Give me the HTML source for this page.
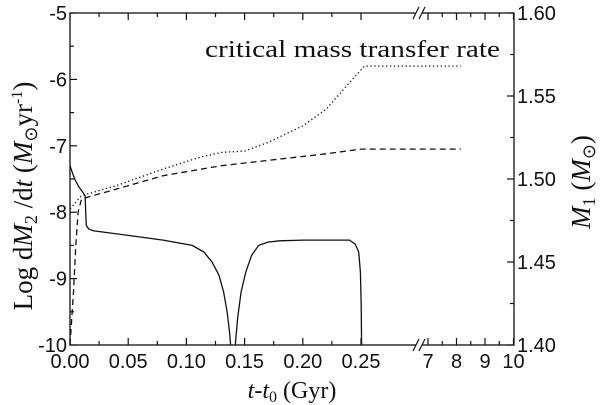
<!DOCTYPE html>
<html><head><meta charset="utf-8"><style>
body{margin:0;background:#fff}
svg{display:block}
.t{font-family:"Liberation Sans",sans-serif;font-size:20px;fill:#111}
.s{font-family:"Liberation Serif",serif;font-size:24px;fill:#111}
</style></head><body>
<svg width="600" height="405" viewBox="0 0 600 405">
<g id="g"></g>
</svg>
<script>
const xTicksLeft=[0,0.05,0.10,0.15,0.20,0.25];
const xTicksRight=[7,8,9,10];
const yTicks=[-5,-6,-7,-8,-9,-10];
const y2Ticks=[1.40,1.45,1.50,1.55,1.60];
const dotT=[0,0.01,0.04,0.08,0.11,0.13,0.15,0.17,0.2,0.22,0.24,0.253,7,8.15];
const dotV=[-7.95,-7.75,-7.6,-7.35,-7.18,-7.1,-7.08,-6.95,-6.7,-6.45,-6.05,-5.8,-5.8,-5.8];
const dashT=[0,0.003,0.005,0.007,0.01,0.04,0.08,0.13,0.18,0.22,0.25,7,8.15];
const dashV=[-10,-9.2,-8.5,-8.0,-7.8,-7.65,-7.45,-7.3,-7.2,-7.12,-7.05,-7.05,-7.05];
const solA_T=[0,0.002,0.004,0.007,0.013,0.0135,0.014,0.016,0.02,0.05,0.08,0.105,0.115,0.122,0.128,0.132,0.135,0.137,0.138];
const solA_V=[-7.3,-7.4,-7.5,-7.6,-7.75,-8.0,-8.2,-8.25,-8.28,-8.35,-8.42,-8.5,-8.6,-8.75,-8.95,-9.2,-9.5,-9.8,-10];
const solB_T=[0.142,0.144,0.147,0.151,0.156,0.162,0.17,0.18,0.2,0.22,0.24,0.245,0.248,0.2495,0.2502,0.2505];
const solB_V=[-10,-9.6,-9.2,-8.9,-8.65,-8.5,-8.45,-8.43,-8.42,-8.42,-8.42,-8.48,-8.6,-8.9,-9.4,-10];
const L=70,R=514,T=13,B=345;
function X(t){return t<=1?L+t/0.05*58.2:428+(t-7)*28.5;}
function Y(v){return T+(-5-v)*(B-T)/5;}
function Y2(m){return B-(m-1.4)/0.2*(B-T);}
const g=document.getElementById('g');const NS='http://www.w3.org/2000/svg';
function el(tag,a,txt){const e=document.createElementNS(NS,tag);for(const k in a)e.setAttribute(k,a[k]);if(txt!==undefined)e.textContent=txt;g.appendChild(e);return e;}
function line(x1,y1,x2,y2){return el('line',{x1,y1,x2,y2,stroke:'#111','stroke-width':1.2});}
let e=el('rect',{x:L,y:T,width:R-L,height:B-T,fill:'none',stroke:'#111','stroke-width':1.3});

el('rect',{x:416,y:T-2,width:6,height:4,fill:'#fff'});el('rect',{x:416,y:B-2,width:6,height:4,fill:'#fff'});
[413,419].forEach(a=>{line(a,T+6,a+6,T-6);line(a,B+6,a+6,B-6);});
xTicksLeft.forEach(t=>{const x=X(t);line(x,B,x,B-7);line(x,T,x,T+7);
 if(t<0.25){line(X(t+0.025),B,X(t+0.025),B-4);line(X(t+0.025),T,X(t+0.025),T+4);}
 e=el('text',{x,y:B+23,'text-anchor':'middle',class:'t'},t.toFixed(2));
 });
xTicksRight.forEach(t=>{const x=X(t);line(x,B,x,B-7);line(x,T,x,T+7);
 if(t<10){line(X(t+0.5),B,X(t+0.5),B-4);line(X(t+0.5),T,X(t+0.5),T+4);}
 e=el('text',{x,y:B+23,'text-anchor':'middle',class:'t'},String(t));
 });
yTicks.forEach(v=>{const y=Y(v);line(L,y,L+7,y);if(v>-10)line(L,Y(v-0.5),L+4,Y(v-0.5));
 e=el('text',{x:L-3,y:y+7,'text-anchor':'end',class:'t'},String(v));
 });
y2Ticks.forEach(m=>{const y=Y2(m);line(R,y,R-7,y);if(m<1.6)line(R,Y2(m+0.025),R-4,Y2(m+0.025));
 e=el('text',{x:R+3,y:y+7,class:'t'},m.toFixed(2));
 });
function path(ts,vs,dash,name){let d='';ts.forEach((t,i)=>{d+=(i?'L':'M')+X(t).toFixed(1)+','+Y(vs[i]).toFixed(1);});
 const a={d,fill:'none',stroke:'#111','stroke-width':1.3};if(dash)a['stroke-dasharray']=dash;
 const p=el('path',a);}
path(dotT,dotV,'1.3 2.6','critical-rate-line');
path(dashT,dashV,'6 4','mass-m1-line');
path(solA_T,solA_V,null,'transfer-rate-line-a');path(solB_T,solB_V,null,'transfer-rate-line-b');
e=el('text',{x:205,y:57,class:'s',textLength:295,lengthAdjust:'spacingAndGlyphs'},'critical mass transfer rate');

e=el('text',{x:292,y:398,'text-anchor':'middle',class:'s'});e.innerHTML='<tspan font-style="italic">t</tspan>-<tspan font-style="italic">t</tspan><tspan font-size="16" dy="4">0</tspan><tspan dy="-4"> (Gyr)</tspan>';

e=el('text',{transform:'translate(32,196) rotate(-90)','text-anchor':'middle',class:'s',style:'font-size:27px'});
e.innerHTML='Log d<tspan font-style="italic">M</tspan><tspan font-size="18" dy="5">2</tspan><tspan dy="-5"> /d</tspan><tspan font-style="italic">t</tspan> (<tspan font-style="italic">M</tspan><tspan font-size="18" dy="5">⊙</tspan><tspan dy="-5">yr</tspan><tspan font-size="16" dy="-10">-1</tspan><tspan dy="10">)</tspan>';

e=el('text',{transform:'translate(590,182) rotate(-90)','text-anchor':'middle',class:'s',style:'font-size:27px'});
e.innerHTML='<tspan font-style="italic">M</tspan><tspan font-size="18" dy="5">1</tspan><tspan dy="-5"> (</tspan><tspan font-style="italic">M</tspan><tspan font-size="18" dy="5">⊙</tspan><tspan dy="-5">)</tspan>';

</script>
</body></html>
